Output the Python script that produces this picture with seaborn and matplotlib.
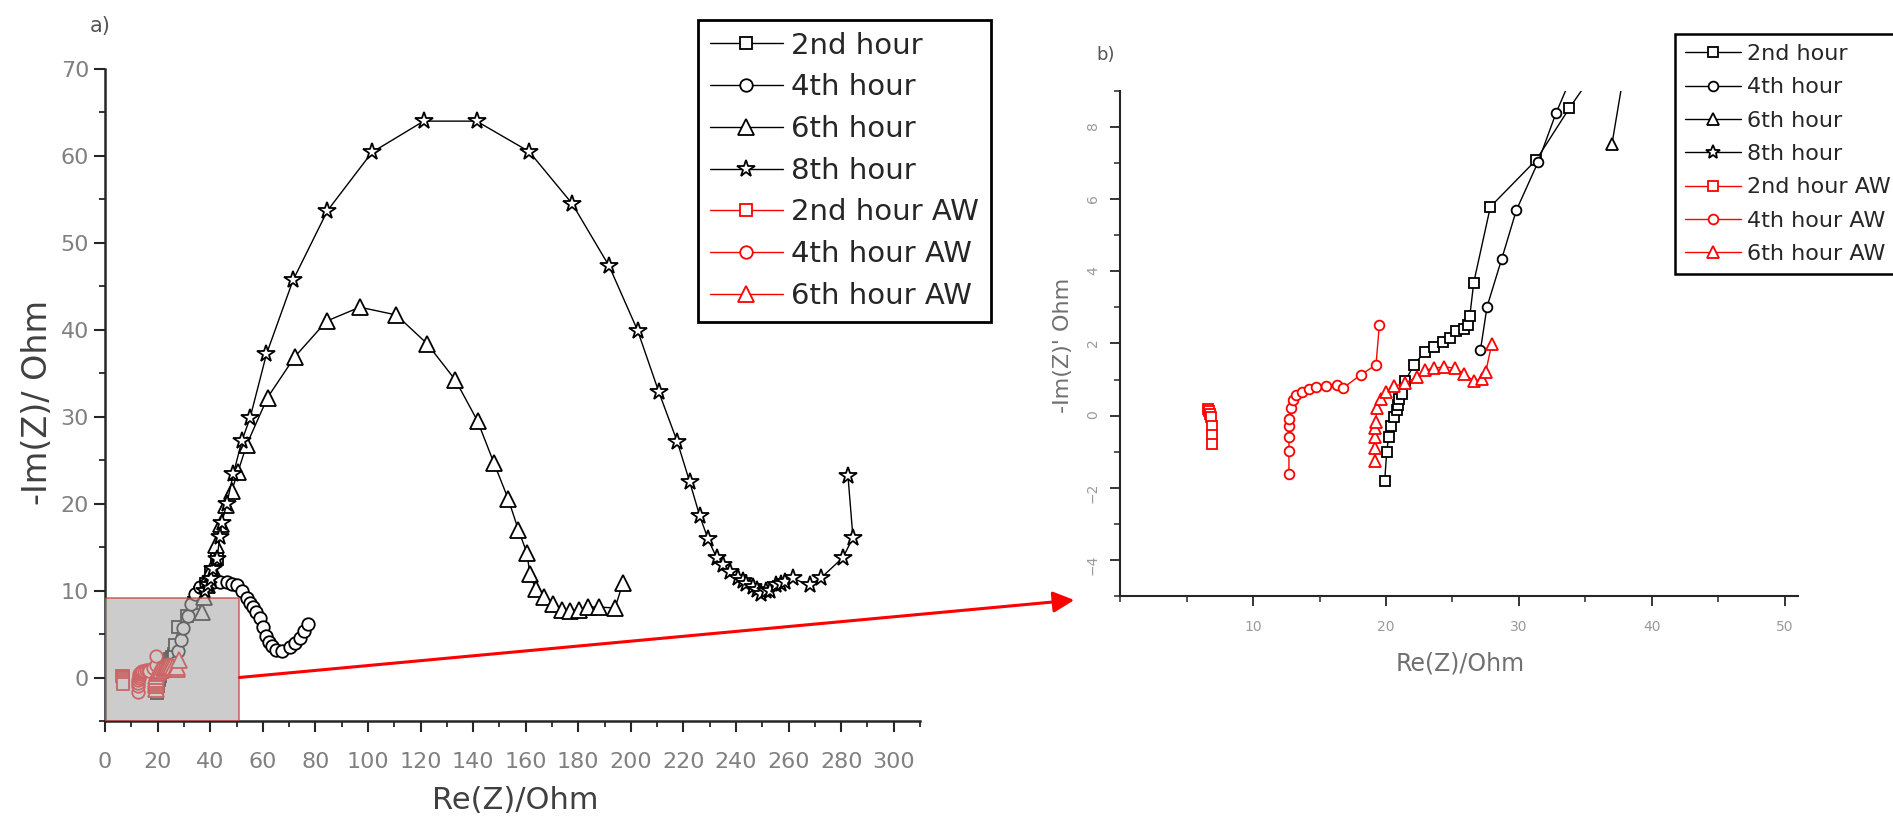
import matplotlib
matplotlib.use("Agg")
import matplotlib.pyplot as plt
import matplotlib.patches as mpatches
from matplotlib.ticker import MultipleLocator
import seaborn as sns

sns.set_style("ticks")
plt.rcParams['font.family'] = ['DejaVu Sans']

# ---- data (Re(Z), -Im(Z) in Ohm) ----
h2_x = [19.9, 20.05, 20.2, 20.4, 20.6, 20.8, 20.9, 21.0, 21.2, 21.45, 22.1, 22.9, 23.6,
        24.3, 24.8, 25.3, 25.9, 26.2, 26.3, 26.6, 27.85, 31.3, 33.8, 36.0, 38.3, 40.4, 42.4]
h2_y = [-1.82, -1.02, -0.58, -0.28, -0.05, 0.15, 0.3, 0.45, 0.6, 0.96, 1.41, 1.76, 1.9,
        2.05, 2.15, 2.35, 2.4, 2.5, 2.75, 3.69, 5.79, 7.09, 8.53, 9.7, 10.8, 12.1, 13.6]

h4_x = [27.1, 27.6, 28.7, 29.8, 31.45, 32.8, 34.2, 36.1, 38.5, 41.0, 43.7, 46.3, 48.2,
        50.1, 52.0, 53.9, 55.2, 56.4, 57.6, 58.9, 60.0, 61.2, 62.3, 63.4, 65.0, 67.2,
        70.3, 72.3, 74.1, 75.7, 77.3]
h4_y = [1.81, 3.02, 4.34, 5.69, 7.04, 8.4, 9.6, 10.4, 10.8, 11.0, 11.0, 11.0, 10.8,
        10.6, 10.0, 9.2, 8.6, 8.1, 7.5, 6.9, 5.8, 4.8, 4.1, 3.6, 3.2, 3.1,
        3.5, 4.0, 4.6, 5.3, 6.2]

h6_x = [37.0, 37.8, 38.9, 40.5, 42.2, 44.0, 46.0, 48.2, 50.5, 53.9, 61.8, 72.2, 84.3,
        96.9, 110.8, 122.5, 133.3, 141.7, 147.9, 153.4, 157.2, 160.5, 161.6, 163.8,
        167.1, 170.4, 173.7, 177.0, 180.4, 183.7, 188.0, 194.0, 197.0]
h6_y = [7.54, 9.3, 10.6, 12.6, 15.2, 17.6, 19.8, 21.5, 23.6, 26.8, 32.2, 36.9, 41.0,
        42.6, 41.7, 38.4, 34.2, 29.5, 24.7, 20.5, 17.0, 14.3, 11.9, 10.2,
        9.3, 8.4, 7.8, 7.65, 7.8, 8.1, 8.1, 8.0, 10.9]

h8_x = [38.0, 39.2, 40.2, 41.2, 42.5, 43.7, 44.4, 46.3, 48.8, 52.0, 55.1, 61.4, 71.5,
        84.6, 101.5, 121.2, 141.3, 161.3, 177.7, 191.8, 202.6, 210.7, 217.7, 222.4,
        226.2, 229.4, 232.6, 235.1, 237.6, 240.8, 242.5, 244.0, 246.5, 248.0, 249.7,
        251.5, 252.9, 255.4, 257.0, 258.6, 261.7, 268.0, 272.5, 280.7, 284.5, 282.6]
h8_y = [10.0, 10.6, 11.3, 12.5, 13.6, 16.2, 17.8, 20.0, 23.4, 27.2, 29.8, 37.2, 45.7,
        53.7, 60.4, 64.0, 64.0, 60.5, 54.5, 47.3, 39.9, 32.8, 27.1, 22.5,
        18.6, 15.9, 13.8, 12.9, 12.1, 11.4, 11.1, 10.8, 10.4, 10.1, 9.6,
        9.9, 10.0, 10.6, 10.8, 11.0, 11.4, 10.6, 11.5, 13.8, 16.1, 23.2]

aw2_x = [6.6, 6.7, 6.8, 6.85, 6.9, 6.9, 6.9]
aw2_y = [0.18, 0.12, 0.05, -0.05, -0.3, -0.55, -0.78]

aw4_x = [12.7, 12.7, 12.7, 12.7, 12.72, 12.85, 13.0, 13.25, 13.65, 14.2, 14.7, 15.5,
         16.3, 16.75, 18.1, 19.25, 19.5]
aw4_y = [-1.62, -0.97, -0.58, -0.28, -0.08, 0.22, 0.42, 0.57, 0.66, 0.73, 0.79, 0.83,
         0.86, 0.76, 1.13, 1.41, 2.52]

aw6_x = [19.2, 19.2, 19.2, 19.2, 19.25, 19.3, 19.6, 20.0, 20.6, 21.45, 22.3, 22.9, 23.6,
         24.4, 25.2, 25.9, 26.6, 27.2, 27.5, 27.95]
aw6_y = [-1.27, -0.9, -0.58, -0.35, -0.18, 0.22, 0.47, 0.66, 0.81, 0.91, 1.06, 1.26, 1.31,
         1.36, 1.31, 1.16, 0.96, 1.01, 1.21, 1.98]

series = [
    ("2nd hour", h2_x, h2_y, "s", "black"),
    ("4th hour", h4_x, h4_y, "o", "black"),
    ("6th hour", h6_x, h6_y, "^", "black"),
    ("8th hour", h8_x, h8_y, "*", "black"),
    ("2nd hour AW", aw2_x, aw2_y, "s", "red"),
    ("4th hour AW", aw4_x, aw4_y, "o", "red"),
    ("6th hour AW", aw6_x, aw6_y, "^", "red"),
]

size_a = {"s": 8, "o": 9, "^": 11, "*": 13}
size_b = {"s": 7, "o": 7, "^": 8.5, "*": 10}

fig = plt.figure(figsize=(18.93, 8.25), dpi=100)
ax_a = fig.add_axes([0.0555, 0.1261, 0.4305, 0.7903])
ax_b = fig.add_axes([0.5917, 0.2776, 0.3582, 0.6121])

for ax, sizes in ((ax_a, size_a), (ax_b, size_b)):
    for name, xs, ys, mk, col in series:
        sns.lineplot(x=xs, y=ys, sort=False, estimator=None, ax=ax, color=col,
                     linewidth=1.0, marker=mk, markersize=sizes[mk],
                     markerfacecolor="white", markeredgecolor=col,
                     markeredgewidth=1.3, label=name)
    if ax.get_legend() is not None:
        ax.get_legend().remove()
    sns.despine(ax=ax)
    ax.tick_params(which="both", direction="out")

# panel a
ax_a.set_xlim(0, 310)
ax_a.set_ylim(-5, 70)
ax_a.xaxis.set_major_locator(MultipleLocator(20))
ax_a.xaxis.set_minor_locator(MultipleLocator(10))
ax_a.set_yticks(range(0, 71, 10))
ax_a.yaxis.set_minor_locator(MultipleLocator(5))
for s in ax_a.spines.values():
    s.set_linewidth(1.8)
ax_a.tick_params(which="major", length=8, width=1.5, labelsize=16, labelcolor="#808080")
ax_a.tick_params(which="minor", length=4.5, width=1.3)
ax_a.tick_params(axis="x", which="major", pad=14)
ax_a.set_xlabel("Re(Z)/Ohm", fontsize=22, color="#404040")
ax_a.set_ylabel("-Im(Z)/ Ohm", fontsize=24, color="#404040")
ax_a.xaxis.set_label_coords(0.503, -0.10)
ax_a.yaxis.set_label_coords(-0.063, 0.488)

zoom_box = mpatches.Rectangle((0, -5), 51, 14.2, facecolor="#aaaaaa", alpha=0.6,
                              edgecolor="#cc2222", linewidth=1.3, zorder=6)
ax_a.add_patch(zoom_box)

ax_a.annotate("", xy=(0.5675, 0.2727), xycoords="figure fraction",
              xytext=(51, 0), textcoords="data",
              arrowprops=dict(arrowstyle="-|>", color="red", lw=2.2,
                              mutation_scale=32, shrinkA=0, shrinkB=0),
              annotation_clip=False)

# panel b
ax_b.set_xlim(0, 51)
ax_b.set_ylim(-5, 9)
ax_b.set_xticks([10, 20, 30, 40, 50])
ax_b.xaxis.set_minor_locator(MultipleLocator(5))
ax_b.set_yticks([-4, -2, 0, 2, 4, 6, 8])
ax_b.yaxis.set_minor_locator(MultipleLocator(1))
for s in ax_b.spines.values():
    s.set_linewidth(1.5)
ax_b.tick_params(which="major", length=7, width=1.3, labelsize=10, labelcolor="#9a9a9a")
ax_b.tick_params(which="minor", length=4, width=1.1)
ax_b.tick_params(axis="x", which="major", pad=10)
ax_b.tick_params(axis="y", which="major", pad=7.5, labelrotation=90)
ax_b.set_xlabel("Re(Z)/Ohm", fontsize=17, color="#707070")
ax_b.set_ylabel("-Im(Z)' Ohm", fontsize=16, color="#707070")
ax_b.xaxis.set_label_coords(0.501, -0.109)
ax_b.yaxis.set_label_coords(-0.069, 0.497)

# legends
h_a, l_a = ax_a.get_legend_handles_labels()
fig.legend(h_a, l_a, loc="upper left", bbox_to_anchor=(0.3687, 0.9758),
           fontsize=21, frameon=True, fancybox=False, edgecolor="black",
           framealpha=1, borderpad=0.4, labelspacing=0.47, handlelength=2.5,
           handletextpad=0.3, borderaxespad=0).get_frame().set_linewidth(2)

h_b, l_b = ax_b.get_legend_handles_labels()
fig.legend(h_b, l_b, loc="upper left", bbox_to_anchor=(0.8849, 0.9588),
           fontsize=16, frameon=True, fancybox=False, edgecolor="black",
           framealpha=1, borderpad=0.45, labelspacing=0.6, handlelength=2.5,
           handletextpad=0.3, borderaxespad=0).get_frame().set_linewidth(1.8)

fig.text(0.053, 0.968, "a)", fontsize=15, color="#555555", ha="center", va="center")
fig.text(0.584, 0.933, "b)", fontsize=13, color="#555555", ha="center", va="center")

fig.savefig("out.png", dpi=100)
